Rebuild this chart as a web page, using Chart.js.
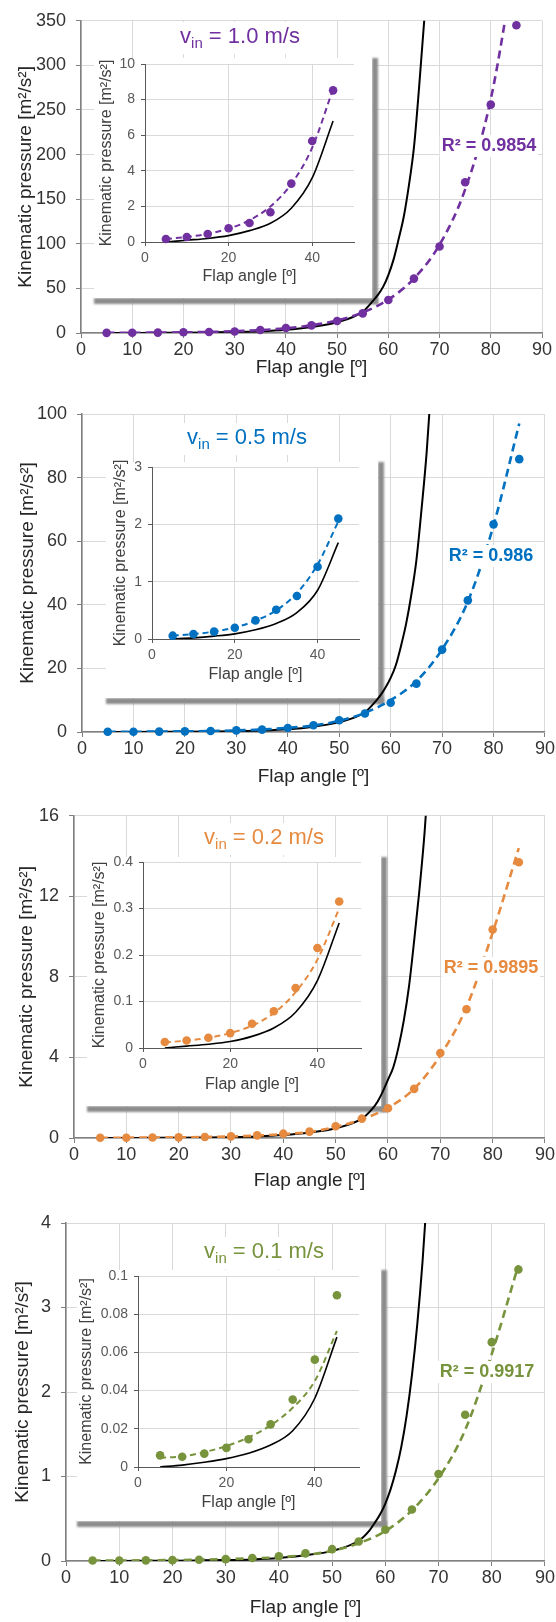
<!DOCTYPE html>
<html>
<head>
<meta charset="utf-8">
<script src="https://cdn.jsdelivr.net/npm/chart.js@4.4.0/dist/chart.umd.min.js"></script>
<style>
  html, body { margin: 0; padding: 0; background: #fff; }
  #page { position: relative; width: 556px; height: 1622px; overflow: hidden; }
  #page canvas { position: absolute; }
</style>
</head>
<body>
<div id="page"></div>
<script>
// ---- data ----
const angles = [5, 10, 15, 20, 25, 30, 35, 40, 45, 50, 55, 60, 65, 70, 75, 80, 85];
const theoryAngles = [5, 10, 15, 20, 25, 30, 35, 40, 45, 50, 55, 57, 58, 59, 60, 61, 62, 63, 64, 65, 66, 67, 68];
const insetMaxAngle = 45;

const speeds = ['1.0', '0.5', '0.2', '0.1'];
const r2Values = ['0.9854', '0.986', '0.9895', '0.9917'];

// v_in = 1.0 m/s
const measured10 = [0.17, 0.28, 0.45, 0.77, 1.07, 1.67, 3.28, 5.67, 8.52, 13.5, 22, 37, 61, 97, 169, 256, 345];
const fit10 = [0.17, 0.28, 0.46, 0.75, 1.22, 2.0, 3.25, 5.3, 8.6, 14, 23, 37.5, 61, 99, 161, 262, 427];
const theory10 = [0, 0.1, 0.2, 0.36, 0.64, 1.05, 1.9, 3.6, 6.8, 12, 24, 36, 43, 52, 65, 82, 105, 130, 165, 208, 275, 350, 440];

// v_in = 0.5 m/s
const measured05 = [0.058, 0.087, 0.128, 0.197, 0.325, 0.51, 0.75, 1.26, 2.1, 3.7, 5.8, 9.2, 15.2, 25.9, 41.4, 65.3, 85.8];
const fit05 = [0.06, 0.085, 0.13, 0.2, 0.32, 0.5, 0.8, 1.3, 2.05, 3.5, 6.0, 10, 16, 26, 41, 65, 97];
const theory05 = [0, 0.02, 0.05, 0.09, 0.16, 0.27, 0.46, 0.85, 1.68, 3.1, 6.2, 9.5, 11.5, 14, 17, 21, 27, 34, 43, 54, 70, 88, 112];

// v_in = 0.2 m/s
const measured02 = [0.013, 0.016, 0.022, 0.032, 0.052, 0.079, 0.129, 0.215, 0.315, 0.58, 0.96, 1.48, 2.44, 4.22, 6.39, 10.35, 13.69];
const fit02 = [0.012, 0.016, 0.022, 0.032, 0.048, 0.075, 0.12, 0.19, 0.30, 0.55, 0.93, 1.5, 2.45, 4.1, 6.5, 10.2, 14.4];
const theory02 = [0, 0.004, 0.008, 0.014, 0.025, 0.043, 0.077, 0.145, 0.269, 0.48, 0.96, 1.45, 1.8, 2.3, 2.9, 3.5, 4.5, 5.8, 7.5, 9.8, 12.3, 15.2, 19];

// v_in = 0.1 m/s
const measured01 = [0.0061, 0.0054, 0.007, 0.01, 0.0145, 0.0223, 0.0353, 0.0562, 0.0899, 0.14, 0.23, 0.37, 0.61, 1.03, 1.73, 2.59, 3.45];
const fit01 = [0.0049, 0.0055, 0.0078, 0.011, 0.0155, 0.0218, 0.031, 0.045, 0.0712, 0.12, 0.21, 0.355, 0.6, 0.98, 1.55, 2.45, 3.5];
const theory01 = [0, 0.001, 0.0025, 0.0044, 0.0072, 0.0115, 0.019, 0.036, 0.068, 0.12, 0.24, 0.36, 0.45, 0.55, 0.68, 0.85, 1.07, 1.35, 1.72, 2.2, 2.8, 3.55, 4.5];

const mainYMax = [350, 100, 16, 4];
const mainYStep = [50, 20, 4, 1];
const insetYMax = [10, 3, 0.4, 0.1];
const insetYStep = [2, 1, 0.1, 0.02];

const measuredSets = [measured10, measured05, measured02, measured01];
const fitSets = [fit10, fit05, fit02, fit01];
const theorySets = [theory10, theory05, theory02, theory01];

// ---- looks / placement (page pixels) ----
const colors = ['#7030A0', '#0070C0', '#E68A40', '#77933C'];
const FONT = '"Liberation Sans", Arial, sans-serif';
Chart.defaults.font.family = FONT;

const panels = [
  { top: 0,    h: 388, area: {l: 81, r: 542, t: 14,   b: 333},  xTitleY: 368,  yTitleX: 26,
    box: {l: 94,  r: 372, t: 58,   b: 298},  inset: {l: 145, r: 354, t: 64,   b: 242},  iyTitleX: 107, ixTitleY: 277,
    vLabel: {x: 240, y: 37},   r2: {x: 489, y: 146} },
  { top: 392,  h: 398, area: {l: 82, r: 545, t: 414,  b: 732},  xTitleY: 777,  yTitleX: 28,
    box: {l: 106, r: 378, t: 462,  b: 698},  inset: {l: 152, r: 359, t: 467,  b: 639},  iyTitleX: 121, ixTitleY: 675,
    vLabel: {x: 247, y: 438},  r2: {x: 491, y: 556} },
  { top: 795,  h: 397, area: {l: 74, r: 549, t: 814,  b: 1138}, xTitleY: 1181, yTitleX: 27,
    box: {l: 87,  r: 381, t: 857,  b: 1106}, inset: {l: 143, r: 361, t: 862,  b: 1048}, iyTitleX: 100, ixTitleY: 1085,
    vLabel: {x: 264, y: 838},  r2: {x: 491, y: 968} },
  { top: 1200, h: 422, area: {l: 66, r: 548, t: 1223, b: 1561}, xTitleY: 1608, yTitleX: 23,
    box: {l: 77,  r: 381, t: 1270, b: 1521}, inset: {l: 138, r: 359, t: 1276, b: 1467}, iyTitleX: 87,  ixTitleY: 1503,
    vLabel: {x: 264, y: 1252}, r2: {x: 487, y: 1372} }
];

const page = document.getElementById('page');

function addCanvas(x, y, w, h) {
  const c = document.createElement('canvas');
  c.width = w; c.height = h;
  c.style.left = x + 'px'; c.style.top = y + 'px';
  c.style.width = w + 'px'; c.style.height = h + 'px';
  page.appendChild(c);
  return c;
}

function pairs(xs, ys, maxX) {
  const out = [];
  xs.forEach((x, i) => { if (maxX === undefined || x <= maxX) out.push({x: x, y: ys[i]}); });
  return out;
}

function fmt(v) { return String(+v.toFixed(4)); }

// white inset box with its grey drop shadow, and the two text labels
const decorations = {
  id: 'decorations',
  beforeDatasetsDraw(chart, args, o) {
    const ctx = chart.ctx, b = o.box, dy = o.top;
    ctx.save();
    ctx.filter = 'blur(1.2px)';
    ctx.fillStyle = '#8c8c8c';
    ctx.fillRect(b.r, b.t - dy, 6, b.b - b.t + 6);
    ctx.fillRect(b.l, b.b - dy, b.r - b.l + 6, 6);
    ctx.filter = 'none';
    ctx.fillStyle = '#fff';
    ctx.fillRect(b.l, b.t - dy, b.r - b.l, b.b - b.t);
    ctx.restore();
  },
  afterDatasetsDraw(chart, args, o) {
    const ctx = chart.ctx, dy = o.top;
    ctx.save();
    // v_in label
    const big = '22px ' + FONT, small = '15px ' + FONT;
    const rest = ' = ' + o.speed + ' m/s';
    ctx.font = big;
    const wv = ctx.measureText('v').width, wr = ctx.measureText(rest).width;
    ctx.font = small;
    const ws = ctx.measureText('in').width;
    const w = wv + ws + wr;
    let x = o.vLabel.x - w / 2;
    const y = o.vLabel.y - dy;
    ctx.fillStyle = '#fff';
    ctx.fillRect(x - 4, y - 15, w + 8, 32);
    ctx.fillStyle = o.color;
    ctx.textBaseline = 'middle';
    ctx.textAlign = 'left';
    ctx.font = big; ctx.fillText('v', x, y); x += wv;
    ctx.font = small; ctx.fillText('in', x, y + 7); x += ws;
    ctx.font = big; ctx.fillText(rest, x, y);
    // R² label
    ctx.font = 'bold 18px ' + FONT;
    const t = 'R² = ' + o.r2;
    const wt = ctx.measureText(t).width;
    ctx.fillStyle = '#fff';
    ctx.fillRect(o.r2pos.x - wt / 2 - 2, o.r2pos.y - dy - 11, wt + 4, 22);
    ctx.fillStyle = o.color;
    ctx.textAlign = 'center';
    ctx.fillText(t, o.r2pos.x, o.r2pos.y - dy);
    ctx.restore();
  }
};

panels.forEach((p, i) => {
  const color = colors[i];
  const W = 556;
  const canvas = addCanvas(0, p.top, W, p.h);
  const titleLH = 19 * 1.2;

  new Chart(canvas, {
    type: 'line',
    data: {
      datasets: [
        { data: pairs(angles, measuredSets[i]), showLine: false, pointRadius: 4.3,
          pointBackgroundColor: color, pointBorderWidth: 0, borderColor: color, order: 0, clip: false },
        { data: pairs(angles, fitSets[i]), borderColor: color, borderWidth: 2.6, borderDash: [8, 5],
          pointRadius: 0, cubicInterpolationMode: 'monotone', order: 1 },
        { data: pairs(theoryAngles, theorySets[i]), borderColor: '#000', borderWidth: 2,
          pointRadius: 0, cubicInterpolationMode: 'monotone', order: 2 }
      ]
    },
    options: {
      responsive: false,
      animation: false,
      events: [],
      layout: { padding: { top: p.area.t - p.top, right: W - p.area.r, left: 0, bottom: 0 } },
      plugins: {
        legend: { display: false },
        tooltip: { enabled: false },
        decorations: { box: p.box, top: p.top, color: color, speed: speeds[i], r2: r2Values[i],
                       vLabel: p.vLabel, r2pos: p.r2 }
      },
      scales: {
        x: {
          type: 'linear', min: 0, max: 90,
          ticks: { stepSize: 10, color: '#333', font: { size: 18 }, padding: 1 },
          grid: { color: '#d9d9d9', tickLength: 5, tickColor: '#808080' },
          border: { color: '#808080', width: 1.5 },
          title: { display: true, text: 'Flap angle [º]', color: '#262626', font: { size: 19 },
                   padding: { top: 0, bottom: p.top + p.h - p.xTitleY - titleLH / 2 } },
          afterFit: s => { s.height = p.top + p.h - p.area.b; }
        },
        y: {
          min: 0, max: mainYMax[i],
          ticks: { stepSize: mainYStep[i], color: '#333', font: { size: 18 }, padding: 10, callback: fmt },
          grid: { color: '#d9d9d9', tickLength: 5, tickColor: '#808080' },
          border: { color: '#808080', width: 1.5 },
          title: { display: true, text: 'Kinematic pressure [m²/s²]', color: '#262626', font: { size: 19 },
                   padding: { top: p.yTitleX - titleLH / 2, bottom: 0 } },
          afterFit: s => { s.width = p.area.l; }
        }
      }
    },
    plugins: [decorations]
  });

  // inset
  const b = p.box, ia = p.inset;
  const extra = 12;
  const ic = addCanvas(b.l, b.t - extra, b.r - b.l, b.b - b.t + extra);
  const iLH = 16 * 1.2;
  new Chart(ic, {
    type: 'line',
    data: {
      datasets: [
        { data: pairs(angles, measuredSets[i], insetMaxAngle), showLine: false, pointRadius: 4.3,
          pointBackgroundColor: color, pointBorderWidth: 0, borderColor: color, order: 0, clip: false },
        { data: pairs(angles, fitSets[i], insetMaxAngle), borderColor: color, borderWidth: 2, borderDash: [6, 4],
          pointRadius: 0, cubicInterpolationMode: 'monotone', order: 1 },
        { data: pairs(theoryAngles, theorySets[i], insetMaxAngle), borderColor: '#000', borderWidth: 1.6,
          pointRadius: 0, cubicInterpolationMode: 'monotone', order: 2 }
      ]
    },
    options: {
      responsive: false,
      animation: false,
      events: [],
      layout: { padding: { top: ia.t - (b.t - extra), right: b.r - ia.r, left: 0, bottom: 0 } },
      plugins: { legend: { display: false }, tooltip: { enabled: false } },
      scales: {
        x: {
          type: 'linear', min: 0, max: 50,
          afterBuildTicks: s => { s.ticks = s.ticks.filter(t => t.value % 20 === 0); },
          ticks: { stepSize: 20, color: '#595959', font: { size: 14 }, padding: 4 },
          grid: { color: '#d9d9d9', tickLength: 4, tickColor: '#595959' },
          border: { color: '#595959', width: 1 },
          title: { display: true, text: 'Flap angle [º]', color: '#404040', font: { size: 16 },
                   padding: { top: 0, bottom: b.b - p.ixTitleY - iLH / 2 } },
          afterFit: s => { s.height = b.b - ia.b; }
        },
        y: {
          min: 0, max: insetYMax[i],
          ticks: { stepSize: insetYStep[i], color: '#595959', font: { size: 14 }, padding: 6, callback: fmt },
          grid: { color: '#d9d9d9', tickLength: 4, tickColor: '#595959' },
          border: { color: '#595959', width: 1 },
          title: { display: true, text: 'Kinematic pressure [m²/s²]', color: '#404040', font: { size: 16 },
                   padding: { top: p.iyTitleX - b.l - iLH / 2, bottom: 0 } },
          afterFit: s => { s.width = ia.l - b.l; }
        }
      }
    }
  });
});
</script>
</body>
</html>
